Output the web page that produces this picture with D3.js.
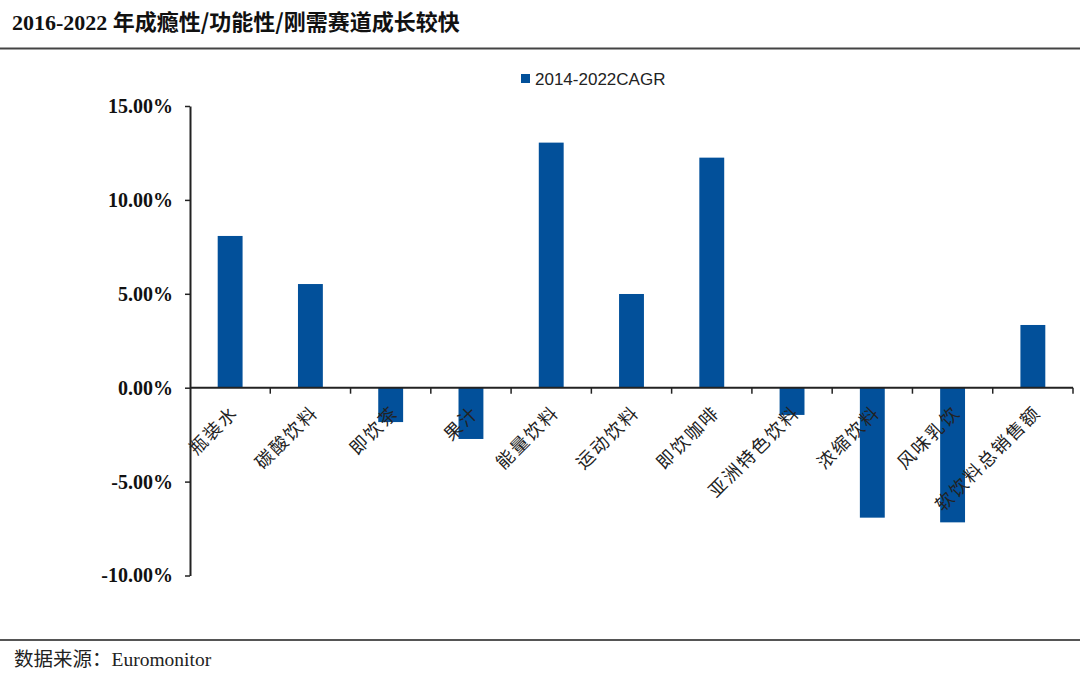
<!DOCTYPE html>
<html>
<head>
<meta charset="utf-8">
<script src="https://cdn.jsdelivr.net/npm/d3@7"></script>
<style>
  body { margin: 0; background: #fff; }
  svg { display: block; }
</style>
</head>
<body>
<div class="chart"></div>
<script>
// categories and CAGR values (%)
const categories = ['瓶装水','碳酸饮料','即饮茶','果汁','能量饮料','运动饮料','即饮咖啡','亚洲特色饮料','浓缩饮料','风味乳饮','软饮料总销售额']
const cagr = [8.08, 5.52, -1.83, -2.73, 13.05, 4.99, 12.25, -1.45, -6.92, -7.17, 3.34]
const yTicks = [-10, -5, 0, 5, 10, 15]
const seriesName = '2014-2022CAGR'

const W = 1080, H = 682
const barColor = '#02509a'
const serif = '"Liberation Serif","Times New Roman","Noto Sans CJK SC",serif'
const cjk = '"Noto Sans CJK SC","Noto Sans",sans-serif'

let svg = d3.select('.chart').append('svg')
    .attr('width', W)
    .attr('height', H)

// header / footer
svg.append('text')
    .attr('x', 12).attr('y', 30)
    .attr('font-size', 22).attr('font-weight', 'bold')
    .attr('fill', '#111')
    .style('font-family', serif)
    .html('2016-2022 <tspan style=\'font-family:"Noto Sans CJK SC"\'>年成瘾性/功能性/刚需赛道成长较快</tspan>')

svg.append('line')
    .attr('x1', 0).attr('x2', W).attr('y1', 48.5).attr('y2', 48.5)
    .attr('stroke', '#444').attr('stroke-width', 2)

svg.append('line')
    .attr('x1', 0).attr('x2', W).attr('y1', 640).attr('y2', 640)
    .attr('stroke', '#555').attr('stroke-width', 2)

svg.append('text')
    .attr('x', 14).attr('y', 666)
    .attr('font-size', 19.5).attr('fill', '#222')
    .style('font-family', serif)
    .html('<tspan style=\'font-family:"Noto Sans CJK SC"\'>数据来源：</tspan>Euromonitor')

// scales
const x = d3.scaleBand()
    .domain(categories)
    .range([190, 1073])
    .paddingInner(0).paddingOuter(0)

const y = d3.scaleLinear()
    .domain([-10, 15])
    .range([575.5, 106])

const bw = x.bandwidth() * 0.31

// bars
svg.selectAll('rect.bar')
    .data(categories)
    .join('rect')
    .attr('class', 'bar')
    .attr('x', d => x(d) + x.bandwidth() / 2 - bw / 2)
    .attr('width', bw)
    .attr('y', (d, i) => y(Math.max(0, cagr[i])))
    .attr('height', (d, i) => Math.abs(y(cagr[i]) - y(0)))
    .attr('fill', barColor)

// y axis
const yAxis = svg.append('g')
    .attr('transform', 'translate(190,0)')
    .call(d3.axisLeft(y).tickValues(yTicks).tickSize(5).tickSizeOuter(0)
        .tickFormat(d => d.toFixed(2) + '%'))
yAxis.select('.domain').attr('stroke', '#222').attr('stroke-width', 2)
yAxis.selectAll('.tick line').attr('stroke', '#222').attr('stroke-width', 1.5)
yAxis.selectAll('.tick text')
    .attr('x', -17)
    .attr('font-size', 20).attr('font-weight', 'bold')
    .attr('fill', '#111')
    .style('font-family', serif)

// x axis at zero
const boundaries = categories.map(c => x(c)).concat([x.range()[1]])
svg.append('line')
    .attr('x1', 190).attr('x2', x.range()[1])
    .attr('y1', y(0)).attr('y2', y(0))
    .attr('stroke', '#222').attr('stroke-width', 2)
svg.selectAll('line.xtick')
    .data(boundaries.slice(1))
    .join('line')
    .attr('class', 'xtick')
    .attr('x1', d => d).attr('x2', d => d)
    .attr('y1', y(0)).attr('y2', y(0) + 6)
    .attr('stroke', '#222').attr('stroke-width', 1.5)

svg.selectAll('text.xlab')
    .data(categories)
    .join('text')
    .attr('class', 'xlab')
    .attr('transform', d => 'translate(' + (x(d) + x.bandwidth() / 2) + ',' + (y(0) + 17) + ') rotate(-45)')
    .attr('text-anchor', 'end')
    .attr('dy', '0.7em')
    .attr('font-size', 18)
    .attr('letter-spacing', 2)
    .attr('fill', '#222')
    .style('font-family', cjk)
    .text(d => d)

// legend
svg.append('rect')
    .attr('x', 521).attr('y', 74)
    .attr('width', 9).attr('height', 9)
    .attr('fill', barColor)
svg.append('text')
    .attr('x', 535).attr('y', 84.5)
    .attr('font-size', 17).attr('fill', '#222')
    .style('font-family', '"Liberation Sans","Noto Sans",sans-serif')
    .text(seriesName)
</script>
</body>
</html>
